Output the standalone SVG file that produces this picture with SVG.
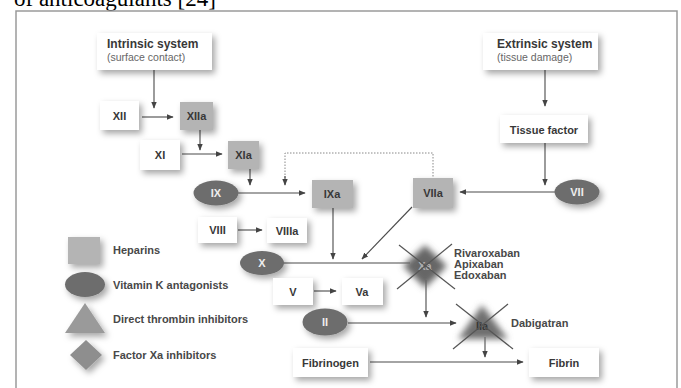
<svg xmlns="http://www.w3.org/2000/svg" width="681" height="388" viewBox="0 0 681 388">
<defs>
<filter id="sh" x="-40%" y="-40%" width="190%" height="200%">
<feDropShadow dx="3" dy="3.5" stdDeviation="3" flood-color="#000" flood-opacity="0.35"/>
</filter>
<filter id="blur" x="-50%" y="-50%" width="200%" height="200%">
<feGaussianBlur stdDeviation="3"/>
</filter>
<marker id="ah" viewBox="0 0 10 10" refX="9" refY="5" markerWidth="7" markerHeight="7" orient="auto" markerUnits="userSpaceOnUse">
<path d="M0,1 L10,5 L0,9 z" fill="#444"/>
</marker>
<style>
.wb{fill:#fff;filter:url(#sh)}
.gb{fill:#b4b4b4;filter:url(#sh)}
.el{fill:#6d6d6d;filter:url(#sh)}
.t{font-family:"Liberation Sans",Arial,sans-serif;font-weight:bold;font-size:11px;fill:#383838;text-anchor:middle;dominant-baseline:central}
.tw{font-family:"Liberation Sans",Arial,sans-serif;font-weight:bold;font-size:11px;fill:#eee;text-anchor:middle;dominant-baseline:central}
.h{font-family:"Liberation Sans",Arial,sans-serif;font-weight:bold;font-size:12px;fill:#383838}
.s{font-family:"Liberation Sans",Arial,sans-serif;font-size:10.5px;fill:#666}
.lg{font-family:"Liberation Sans",Arial,sans-serif;font-weight:bold;font-size:11px;fill:#484848;dominant-baseline:central}
.ln{stroke:#4a4a4a;stroke-width:1.1;fill:none}
.ar{stroke:#4a4a4a;stroke-width:1.1;fill:none;marker-end:url(#ah)}
.dt{stroke:#888;stroke-width:1;fill:none;stroke-dasharray:1.5 1.5}
.x{stroke:#555;stroke-width:1.2}
</style>
</defs>
<rect width="681" height="388" fill="#fff"/>
<text x="14" y="6" font-family="Liberation Serif, Times New Roman, serif" font-size="23" fill="#000">of anticoagulants [24]</text>
<path d="M16,400 V11 H677 V400" fill="none" stroke="#9a9a9a" stroke-width="1.5"/>

<g id="connectors">
<line class="ar" x1="154" y1="70" x2="154" y2="108"/>
<line class="ar" x1="142" y1="117" x2="173" y2="117"/>
<line class="ar" x1="200" y1="130" x2="200" y2="150"/>
<line class="ar" x1="182" y1="154" x2="222" y2="154"/>
<line class="ar" x1="250" y1="169" x2="250" y2="185"/>
<polyline class="dt" points="285,184 285,153 433,153 433,178"/>
<line class="ar" x1="285" y1="176" x2="285" y2="185"/>
<line class="ar" x1="238" y1="193" x2="305" y2="193"/>
<line class="ar" x1="238" y1="230" x2="262" y2="230"/>
<line class="ar" x1="333" y1="208" x2="333" y2="259"/>
<line class="ln" x1="283" y1="263" x2="410" y2="263"/>
<line class="ar" x1="412" y1="207" x2="362" y2="259"/>
<line class="ar" x1="555" y1="192" x2="460" y2="192"/>
<line class="ar" x1="545" y1="70" x2="545" y2="106"/>
<line class="ar" x1="545" y1="143" x2="545" y2="185"/>
<line class="ar" x1="314" y1="291" x2="336" y2="291"/>
<line class="ar" x1="348" y1="323" x2="456" y2="323"/>
<line class="ar" x1="426" y1="280" x2="426" y2="317"/>
<line class="ar" x1="485" y1="337" x2="485" y2="357"/>
<line class="ar" x1="370" y1="362" x2="523" y2="362"/>
</g>

<g id="intrinsic"><rect class="wb" x="97" y="33" width="115" height="37"/><text class="h" x="107" y="48">Intrinsic system</text><text class="s" x="107" y="61">(surface contact)</text></g>
<g id="extrinsic"><rect class="wb" x="483" y="33" width="115" height="37"/><text class="h" x="497" y="48">Extrinsic system</text><text class="s" x="497" y="61">(tissue damage)</text></g>
<g id="tissuefactor"><rect class="wb" x="500" y="115" width="88" height="28"/><text class="t" x="544" y="129.5" font-size="11.5">Tissue factor</text></g>
<g id="XII"><rect class="wb" x="100" y="101" width="39" height="29"/><text class="t" x="119.5" y="116">XII</text></g>
<g id="XIIa"><rect class="gb" x="180" y="102" width="33" height="28"/><text class="t" x="196.5" y="116">XIIa</text></g>
<g id="XI"><rect class="wb" x="140" y="140" width="40" height="30"/><text class="t" x="160" y="155">XI</text></g>
<g id="XIa"><rect class="gb" x="228" y="141" width="31" height="28"/><text class="t" x="243.5" y="155">XIa</text></g>
<g id="IX"><ellipse class="el" cx="216" cy="193" rx="22.5" ry="12.5"/><text class="tw" x="216" y="193">IX</text></g>
<g id="IXa"><rect class="gb" x="312" y="180" width="41" height="28"/><text class="t" x="332" y="194">IXa</text></g>
<g id="VIII"><rect class="wb" x="198" y="217" width="39" height="26"/><text class="t" x="217.5" y="230">VIII</text></g>
<g id="VIIIa"><rect class="wb" x="267" y="218" width="40" height="25"/><text class="t" x="287" y="230.5">VIIIa</text></g>
<g id="VIIa"><rect class="gb" x="413" y="178" width="40" height="30"/><text class="t" x="433" y="193">VIIa</text></g>
<g id="VII"><ellipse class="el" cx="577" cy="192" rx="22.5" ry="12.5"/><text class="tw" x="577" y="192">VII</text></g>
<g id="X"><ellipse class="el" cx="262" cy="263" rx="22" ry="12"/><text class="tw" x="262" y="263">X</text></g>
<g id="V"><rect class="wb" x="273" y="278" width="40" height="27"/><text class="t" x="293" y="291.5">V</text></g>
<g id="Va"><rect class="wb" x="342" y="278" width="41" height="27"/><text class="t" x="362" y="291.5">Va</text></g>
<g id="II"><ellipse class="el" cx="325" cy="322" rx="22.5" ry="13.5"/><text class="tw" x="325" y="322">II</text></g>
<g id="fibrinogen"><rect class="wb" x="293" y="348" width="75" height="29"/><text class="t" x="330.5" y="363" font-size="11.5">Fibrinogen</text></g>
<g id="fibrin"><rect class="wb" x="529" y="348" width="70" height="29"/><text class="t" x="564" y="363" font-size="11.5">Fibrin</text></g>

<g id="xa-inhibitors">
<polygon points="425,245 447,266 425,288 403,266" fill="#666" filter="url(#blur)"/>
<text class="tw" x="425" y="266" font-size="7" fill-opacity="0.55">Xa</text>
<line class="x" x1="399" y1="245" x2="455" y2="289"/>
<line class="x" x1="452" y1="244" x2="397" y2="289"/>
<text class="lg" x="454" y="253">Rivaroxaban</text>
<text class="lg" x="454" y="264">Apixaban</text>
<text class="lg" x="454" y="275">Edoxaban</text>
</g>
<g id="thrombin-inhibitors">
<polygon points="482,305 508,339 458,339" fill="#707070" filter="url(#blur)"/>
<text class="t" x="482" y="326" font-size="8.5" fill="#3a3a3a">IIa</text>
<line class="x" x1="456" y1="304" x2="513" y2="349"/>
<line class="x" x1="508" y1="304" x2="453" y2="349"/>
<text class="lg" x="511" y="323">Dabigatran</text>
</g>

<g id="legend">
<rect x="68" y="237" width="32" height="27" fill="#b4b4b4" filter="url(#sh)"/>
<text class="lg" x="113" y="250">Heparins</text>
<ellipse cx="85" cy="284.5" rx="20" ry="12.5" fill="#6d6d6d" filter="url(#sh)"/>
<text class="lg" x="113" y="285">Vitamin K antagonists</text>
<polygon points="85,303 105,333 65,333" fill="#9a9a9a" filter="url(#sh)"/>
<text class="lg" x="113" y="319">Direct thrombin inhibitors</text>
<polygon points="86,340 102,355 86,370 70,355" fill="#8e8e8e" filter="url(#sh)"/>
<text class="lg" x="113" y="355">Factor Xa inhibitors</text>
</g>
</svg>
